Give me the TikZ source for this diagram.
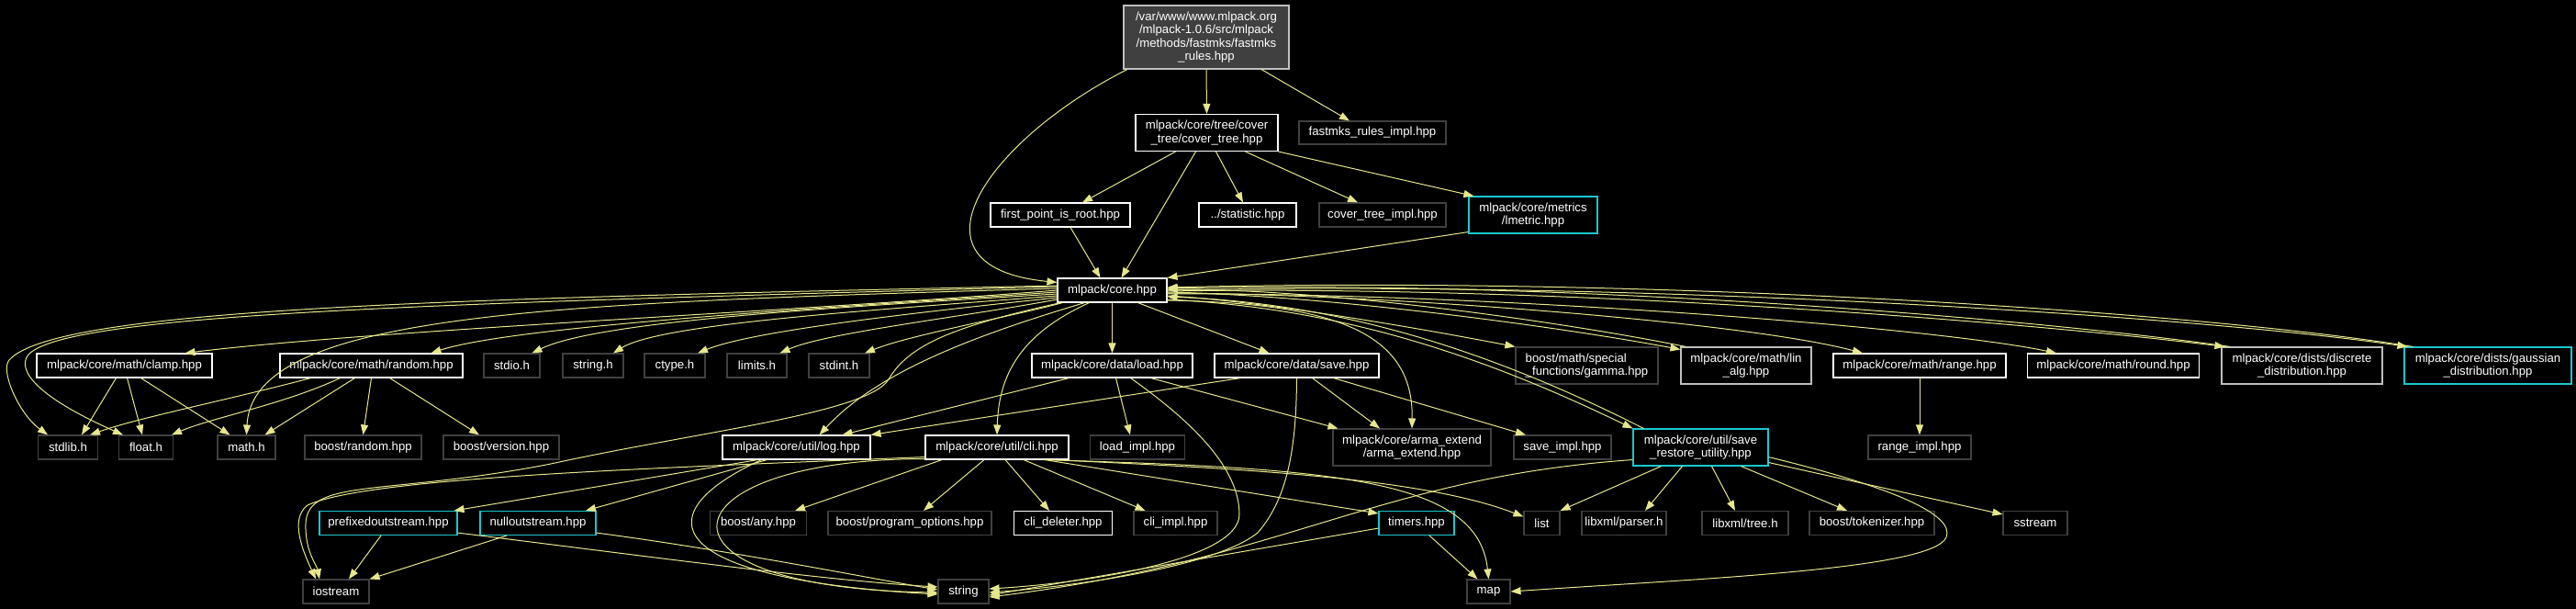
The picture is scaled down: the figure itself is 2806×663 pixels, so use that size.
\documentclass[tikz,border=0pt]{standalone}
\usepackage{fontspec}
\setmainfont{Liberation Sans}
\usetikzlibrary{arrows.meta}
\definecolor{edgec}{RGB}{230,230,140}
\definecolor{cyanc}{RGB}{24,200,205}
\definecolor{darkc}{RGB}{64,64,64}
\definecolor{grayc}{RGB}{191,191,191}
\newcommand{\nodefont}{\fontsize{13.2pt}{14.6pt}\selectfont}
\begin{document}
\begin{tikzpicture}[x=1pt,y=-1pt,
  nbox/.style={draw=#1, fill=black, text=white, line width=1.1pt, inner sep=0pt, minimum height=26pt, align=center, font=\nodefont},
  tall/.style={minimum height=40pt},
  dep/.style={draw=edgec, line width=1pt, -{Triangle[length=11pt,width=8pt]}}]
\fill[black] (0,0) rectangle (2806,663);
\useasboundingbox (0,0) rectangle (2806,663);

% row 0-3
\node[nbox=grayc, fill=darkc, minimum width=180pt, minimum height=69pt] (root) at (1314,40.5) {/var/www/www.mlpack.org\\/mlpack-1.0.6/src/mlpack\\/methods/fastmks/fastmks\\\_rules.hpp};
\node[nbox=white, tall, minimum width=155pt] (ctree) at (1314.5,144.5) {mlpack/core/tree/cover\\\_tree/cover\_tree.hpp};
\node[nbox=darkc, minimum width=160pt, minimum height=25pt] (fimpl) at (1495,144.5) {fastmks\_rules\_impl.hpp};
\node[nbox=white, minimum width=152pt] (fpir) at (1155,234) {first\_point\_is\_root.hpp};
\node[nbox=white, minimum width=106pt] (stat) at (1359,234) {../statistic.hpp};
\node[nbox=darkc, minimum width=138pt] (ctimpl) at (1506,234) {cover\_tree\_impl.hpp};
\node[nbox=cyanc, tall, minimum width=140pt] (lmetric) at (1670,234) {mlpack/core/metrics\\/lmetric.hpp};
\node[nbox=white, minimum width=119pt] (core) at (1211.5,316) {mlpack/core.hpp};

% row 4
\node[nbox=white, minimum width=191pt] (clamp) at (135.5,398) {mlpack/core/math/clamp.hpp};
\node[nbox=white, minimum width=199pt] (random) at (404.5,398) {mlpack/core/math/random.hpp};
\node[nbox=darkc, minimum width=61pt] (stdio) at (557.5,398) {stdio.h};
\node[nbox=darkc, minimum width=66pt] (stringh) at (646,398) {string.h};
\node[nbox=darkc, minimum width=66pt] (ctype) at (735,398) {ctype.h};
\node[nbox=darkc, minimum width=65pt] (limits) at (824.5,398) {limits.h};
\node[nbox=darkc, minimum width=66pt] (stdint) at (914,398) {stdint.h};
\node[nbox=white, minimum width=175pt] (load) at (1211.5,398) {mlpack/core/data/load.hpp};
\node[nbox=white, minimum width=179pt] (save) at (1412.5,398) {mlpack/core/data/save.hpp};
\node[nbox=darkc, tall, minimum width=155pt, align=left] (gamma) at (1728.5,398) {boost/math/special\\\_functions/gamma.hpp};
\node[nbox=grayc, tall, minimum width=142pt] (linalg) at (1902,398) {mlpack/core/math/lin\\\_alg.hpp};
\node[nbox=white, minimum width=188pt] (range) at (2091,398) {mlpack/core/math/range.hpp};
\node[nbox=white, minimum width=187pt] (round) at (2302,398) {mlpack/core/math/round.hpp};
\node[nbox=grayc, tall, minimum width=175pt] (discrete) at (2507.5,398) {mlpack/core/dists/discrete\\\_distribution.hpp};
\node[nbox=cyanc, tall, minimum width=182pt] (gaussian) at (2710,398) {mlpack/core/dists/gaussian\\\_distribution.hpp};

% row 5
\node[nbox=darkc, minimum width=65pt] (stdlib) at (74,487) {stdlib.h};
\node[nbox=darkc, minimum width=59pt] (float) at (159,487) {float.h};
\node[nbox=darkc, minimum width=63pt] (math) at (268.5,487) {math.h};
\node[nbox=darkc, minimum width=127pt] (brandom) at (395.5,487) {boost/random.hpp};
\node[nbox=darkc, minimum width=126pt] (bversion) at (546,487) {boost/version.hpp};
\node[nbox=white, minimum width=161pt] (log) at (867.5,487) {mlpack/core/util/log.hpp};
\node[nbox=white, minimum width=156pt] (cli) at (1086,487) {mlpack/core/util/cli.hpp};
\node[nbox=darkc, minimum width=103pt] (loadimpl) at (1239,487) {load\_impl.hpp};
\node[nbox=darkc, tall, minimum width=172pt] (arma) at (1538,487) {mlpack/core/arma\_extend\\/arma\_extend.hpp};
\node[nbox=darkc, minimum width=106pt] (saveimpl) at (1702,487) {save\_impl.hpp};
\node[nbox=cyanc, tall, minimum width=147pt] (sru) at (1852.5,487) {mlpack/core/util/save\\\_restore\_utility.hpp};
\node[nbox=darkc, minimum width=112pt] (rangeimpl) at (2091,487) {range\_impl.hpp};

% row 6
\node[nbox=cyanc, minimum width=150pt] (prefixed) at (423,569.5) {prefixedoutstream.hpp};
\node[nbox=cyanc, minimum width=126pt] (null) at (586,569.5) {nulloutstream.hpp};
\node[nbox=darkc, minimum width=105pt] (bany) at (826,569.5) {boost/any.hpp};
\node[nbox=darkc, minimum width=178pt] (bpo) at (991,569.5) {boost/program\_options.hpp};
\node[nbox=white, minimum width=107pt] (clidel) at (1158,569.5) {cli\_deleter.hpp};
\node[nbox=darkc, minimum width=91pt] (cliimpl) at (1280.5,569.5) {cli\_impl.hpp};
\node[nbox=cyanc, minimum width=82pt] (timers) at (1543,569.5) {timers.hpp};
\node[nbox=darkc, minimum width=39pt] (list) at (1679.5,569.5) {list};
\node[nbox=darkc, minimum width=92pt] (parser) at (1769,569.5) {libxml/parser.h};
\node[nbox=darkc, minimum width=94pt] (tree) at (1901,569.5) {libxml/tree.h};
\node[nbox=darkc, minimum width=136pt] (tokenizer) at (2039,569.5) {boost/tokenizer.hpp};
\node[nbox=darkc, minimum width=70pt] (sstream) at (2217,569.5) {sstream};

% row 7
\node[nbox=darkc, minimum width=72pt] (iostream) at (366,644) {iostream};
\node[nbox=darkc, minimum width=55pt] (string) at (1049.5,644) {string};
\node[nbox=darkc, minimum width=47pt] (map) at (1621.5,644) {map};

% edges: top part
\draw[dep] (root.south) -- (ctree.north);
\draw[dep] ([xshift=60pt]root.south) -- ([xshift=-25pt]fimpl.north);
\draw[dep] ([xshift=-86pt]root.south) .. controls (1080,150) and (975,290) .. ([yshift=-5pt]core.north west);
\draw[dep] ([xshift=-34pt]ctree.south) -- ([xshift=24pt]fpir.north);
\draw[dep] ([xshift=-12pt]ctree.south) -- ([xshift=10pt]core.north);
\draw[dep] ([xshift=10pt]ctree.south) -- ([xshift=-5pt]stat.north);
\draw[dep] ([xshift=42pt]ctree.south) -- ([xshift=-27pt]ctimpl.north);
\draw[dep] (ctree.south east) -- ([xshift=6pt]lmetric.north west);
\draw[dep] ([xshift=11pt]fpir.south) -- ([xshift=-13pt]core.north);
\draw[dep] ([yshift=2pt]lmetric.south west) -- (core.north east);

% core -> left
\draw[dep] ([yshift=5pt]core.west) .. controls (500,325) and (60,335) .. (10,392) .. controls (0,403) and (20,450) .. ([xshift=-22pt]stdlib.north);
\draw[dep] ([yshift=4pt]core.west) .. controls (500,330) and (80,340) .. (32,385) .. controls (20,397) and (25,425) .. ([xshift=-25pt]float.north);
\draw[dep] ([yshift=2pt]core.west) .. controls (600,330) and (275,340) .. (math.north);
\draw[dep] (core.west) .. controls (850,340) and (400,360) .. ([xshift=66pt]clamp.north);
\draw[dep] ([yshift=-2pt]core.west) .. controls (900,335) and (560,355) .. ([xshift=65pt]random.north);
\draw[dep] ([yshift=-4pt]core.west) .. controls (900,335) and (650,350) .. ([xshift=22pt]stdio.north);
\draw[dep] ([yshift=-6pt]core.west) .. controls (950,338) and (720,352) .. ([xshift=22pt]stringh.north);
\draw[dep] ([yshift=-8pt]core.west) .. controls (1000,340) and (820,360) .. ([xshift=25pt]ctype.north);
\draw[dep] ([yshift=-10pt]core.west) .. controls (1050,345) and (900,362) .. ([xshift=25pt]limits.north);
\draw[dep] ([xshift=6pt]core.south west) .. controls (1100,345) and (990,365) .. ([xshift=28pt]stdint.north);
\draw[dep] ([xshift=4pt]core.south west) .. controls (1040,355) and (990,375) .. (968,413) .. controls (945,450) and (760,470) .. (600,505) .. controls (420,540) and (335,520) .. (333,570) .. controls (332,600) and (345,615) .. ([xshift=-18pt]iostream.north);
\draw[dep] ([xshift=-30pt]core.south) .. controls (1080,360) and (960,400) .. ([xshift=25pt]log.north);
\draw[dep] ([xshift=-25pt]core.south) .. controls (1120,360) and (1088,400) .. (cli.north);
\draw[dep] (core.south) -- (load.north);
\draw[dep] ([xshift=28pt]core.south) -- ([xshift=-30pt]save.north);

% core -> right (and back edges)
\draw[dep] ([yshift=-11pt]core.east) .. controls (1450,330) and (1540,360) .. (arma.north);
\draw[dep] ([yshift=-6pt]core.east) .. controls (1380,328) and (1560,360) .. (gamma.north west);
\draw[dep] ([yshift=-2pt]core.east) .. controls (1450,322) and (1700,356) .. ([yshift=-3pt]linalg.north west);
\draw[dep] ([xshift=6pt]linalg.north west) .. controls (1700,350) and (1450,315) .. ([yshift=1pt]core.east);
\draw[dep] ([yshift=-3pt]core.east) .. controls (1500,320) and (1900,350) .. ([xshift=-62pt]range.north);
\draw[dep] ([yshift=-4pt]core.east) .. controls (1600,318) and (2100,355) .. ([xshift=-62pt]round.north);
\draw[dep] ([yshift=-1pt]core.east) .. controls (1700,310) and (2200,350) .. ([xshift=4pt]discrete.north west);
\draw[dep] ([xshift=10pt]discrete.north west) .. controls (2200,345) and (1700,305) .. ([yshift=2pt]core.east);
\draw[dep] (core.east) .. controls (1800,305) and (2400,345) .. ([xshift=4pt]gaussian.north west);
\draw[dep] ([xshift=10pt]gaussian.north west) .. controls (2400,340) and (1800,300) .. ([yshift=3pt]core.east);
\draw[dep] ([yshift=-10pt]core.east) .. controls (1450,335) and (1600,380) .. (sru.north west);
\draw[dep] ([xshift=12pt]sru.north west) .. controls (1610,375) and (1450,330) .. ([yshift=-7pt]core.east);

% clamp / random
\draw[dep] ([xshift=-9pt]clamp.south) -- ([xshift=15pt]stdlib.north);
\draw[dep] ([xshift=3pt]clamp.south) -- ([xshift=-4pt]float.north);
\draw[dep] ([xshift=18pt]clamp.south) -- ([xshift=-18pt]math.north);
\draw[dep] ([xshift=-66pt]random.south) .. controls (250,435) and (150,455) .. ([xshift=24pt]stdlib.north);
\draw[dep] ([xshift=-34pt]random.south) .. controls (310,440) and (230,455) .. ([xshift=28pt]float.north);
\draw[dep] ([xshift=-18pt]random.south) -- ([xshift=20pt]math.north);
\draw[dep] (random.south) -- (brandom.north);
\draw[dep] ([xshift=20pt]random.south) -- ([xshift=-24pt]bversion.north);

% load / save
\draw[dep] ([xshift=-47pt]load.south) -- ([xshift=50pt]log.north);
\draw[dep] ([xshift=4pt]load.south) -- ([xshift=-8pt]loadimpl.north);
\draw[dep] ([xshift=42pt]load.south) -- ([xshift=6pt]arma.north west);
\draw[dep] ([xshift=20pt]load.south) .. controls (1300,460) and (1350,510) .. (1350,560) .. controls (1350,610) and (1180,635) .. ([yshift=3pt]string.east);
\draw[dep] ([xshift=-61pt]save.south) -- (log.north east);
\draw[dep] ([xshift=17pt]save.south) -- ([xshift=-35pt]arma.north);
\draw[dep] ([xshift=40pt]save.south) -- ([xshift=-40pt]saveimpl.north);
\draw[dep] (save.south) .. controls (1412,480) and (1405,540) .. (1370,580) .. controls (1320,620) and (1150,640) .. ([yshift=-1pt]string.east);

% log
\draw[dep] ([xshift=-42pt]log.south) -- ([xshift=-4pt]prefixed.north east);
\draw[dep] ([xshift=-32pt]log.south) -- ([xshift=52pt]null.north);
\draw[dep] ([xshift=-38pt]log.south) .. controls (700,560) and (720,630) .. ([yshift=-3pt]string.west);

% cli
\draw[dep] ([yshift=3pt]cli.south west) .. controls (700,510) and (400,520) .. (335,550) .. controls (315,565) and (330,600) .. ([xshift=-22pt]iostream.north);
\draw[dep] ([yshift=1pt]cli.south west) .. controls (720,500) and (690,640) .. ([yshift=-1pt]string.west);
\draw[dep] ([xshift=-60pt]cli.south) -- ([xshift=40pt]bany.north);
\draw[dep] ([xshift=-14pt]cli.south) -- ([xshift=15pt]bpo.north);
\draw[dep] ([xshift=9pt]cli.south) -- ([xshift=-15pt]clidel.north);
\draw[dep] ([xshift=29pt]cli.south) -- ([xshift=-33pt]cliimpl.north);
\draw[dep] ([xshift=52pt]cli.south) -- ([yshift=-3pt]timers.north west);
\draw[dep] ([xshift=-20pt]cli.south east) .. controls (1350,510) and (1550,520) .. ([yshift=7pt]list.west);
\draw[dep] ([xshift=-28pt]cli.south east) .. controls (1450,510) and (1610,520) .. (map.north);

% prefixed / null
\draw[dep] ([xshift=-8pt]prefixed.south) -- ([xshift=14pt]iostream.north);
\draw[dep] ([xshift=-34pt]null.south) -- (iostream.north east);
\draw[dep] ([yshift=3pt]prefixed.south east) .. controls (700,605) and (900,632) .. ([yshift=5pt]string.west);
\draw[dep] ([yshift=3pt]null.south east) .. controls (800,600) and (950,630) .. ([yshift=2pt]string.west);

% timers
\draw[dep] ([yshift=8pt]timers.south west) -- ([yshift=-4pt]string.east);
\draw[dep] ([xshift=14pt]timers.south) -- ([xshift=-12pt]map.north);

% save_restore_utility
\draw[dep] ([xshift=-43pt]sru.south) -- (list.north east);
\draw[dep] ([xshift=-20pt]sru.south) -- ([xshift=23pt]parser.north);
\draw[dep] ([xshift=12pt]sru.south) -- ([xshift=-11pt]tree.north);
\draw[dep] ([xshift=44pt]sru.south) -- ([xshift=-27pt]tokenizer.north);
\draw[dep] ([yshift=4pt]sru.south east) -- ([yshift=-4pt]sstream.north west);
\draw[dep] ([yshift=10pt]sru.south east) .. controls (2060,530) and (2130,560) .. (2120,585) .. controls (2105,620) and (1850,630) .. (map.east);
\draw[dep] ([yshift=7pt]sru.south west) .. controls (1500,520) and (1400,610) .. ([yshift=-6pt]string.east);

% range
\draw[dep] (range.south) -- (rangeimpl.north);
\end{tikzpicture}
\end{document}
